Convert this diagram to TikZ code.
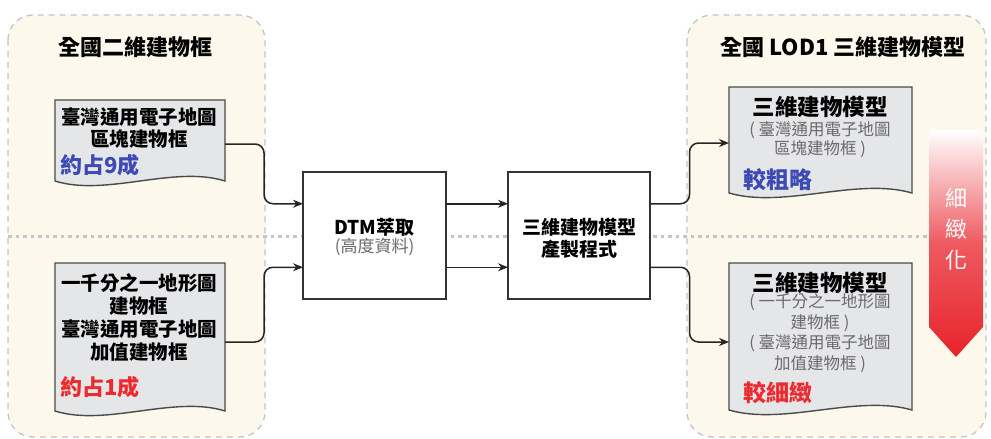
\documentclass[tikz,border=0pt]{standalone}
\usepackage{fontspec}
\setmainfont{Noto Sans CJK TC}
\usetikzlibrary{calc,arrows.meta}
\definecolor{panelfill}{HTML}{FCF8EC}
\definecolor{paneldash}{HTML}{C4C4C4}
\definecolor{docfill}{HTML}{E5E6E8}
\definecolor{docline}{HTML}{4A4A4A}
\definecolor{myblue}{HTML}{3D4AB3}
\definecolor{myred}{HTML}{EE2A2E}
\definecolor{mygray}{HTML}{6A6A6A}
\definecolor{arrowred}{HTML}{E8232B}
\newcommand\fs[2]{\fontsize{#1pt}{#2pt}\selectfont}
\newcommand\docoutline[1]{\path[docshape] (#1.north west) -- (#1.north east) -- (#1.south east)
  .. controls ($(#1.south east)!0.3!(#1.south west)+(0,-16)$) and ($(#1.south east)!0.7!(#1.south west)+(0,16)$) .. (#1.south west) -- cycle;}
\tikzset{
  panel/.style={draw=paneldash, fill=panelfill, dash pattern=on 6pt off 5pt, line width=1.3pt, rounded corners=25pt},
  sepline/.style={draw=gray!45, line width=3pt, dash pattern=on 3.5pt off 4pt},
  docarea/.style={inner sep=0pt, outer sep=0pt, draw=none},
  docshape/.style={draw=docline, fill=docfill, line width=1.4pt},
  procbox/.style={draw=black!80, fill=white, line width=1.5pt, inner sep=0pt, outer sep=0pt},
  conn/.style={draw=black!85, line width=1.5pt, rounded corners=9pt, -{Stealth[length=10pt,width=8pt]}},
  txt/.style={inner sep=0pt, outer sep=0pt, align=center},
}
\begin{document}
\begin{tikzpicture}[x=1pt,y=-1pt]
\useasboundingbox (0,0) rectangle (991,439);
% panels
\draw[panel] (8,15) rectangle (265,437);
\draw[panel] (687,15) rectangle (986,437);
\draw[sepline] (8,236) -- (990,236);
\node[txt, font=\fs{22}{26}\bfseries] (t1) at (135,47) {全國二維建物框};
\node[txt, font=\fs{22}{26}\bfseries] (t2) at (843,47) {全國 LOD1 三維建物模型};
% doc 1
\node[docarea, minimum width=170pt, minimum height=81pt] (d1) at (140,140.5) {};
\docoutline{d1}
\node[txt, font=\fs{19.5}{22}\bfseries] (d1t) at (139,128) {臺灣通用電子地圖\\區塊建物框};
\node[txt, anchor=west, font=\fs{22}{26}\bfseries, text=myblue] (d1p) at (60,165) {約占9成};
% doc 2
\node[docarea, minimum width=170pt, minimum height=148pt] (d2) at (140,337) {};
\docoutline{d2}
\node[txt, font=\fs{19.5}{23}\bfseries] (d2t) at (139,317.5) {一千分之一地形圖\\建物框\\臺灣通用電子地圖\\加值建物框};
\node[txt, anchor=west, font=\fs{22}{26}\bfseries, text=myred] (d2p) at (60,387) {約占1成};
% process boxes
\node[procbox, minimum width=143pt, minimum height=127pt] (dtm) at (374.5,235.5) {};
\node[txt, font=\fs{19}{22}\bfseries] (dtmt) at (374.5,227) {DTM萃取};
\node[txt, font=\fs{17}{20}, text=mygray] (dtms) at (374.5,247) {(高度資料)};
\node[procbox, minimum width=142pt, minimum height=127pt] (prog) at (579,235.5) {};
\node[txt, font=\fs{19}{22}\bfseries] (progt) at (579,238) {三維建物模型\\產製程式};
% doc 3
\node[docarea, minimum width=183pt, minimum height=106pt] (d3) at (820.5,140) {};
\docoutline{d3}
\node[txt, font=\fs{22.5}{26}\bfseries] (d3h) at (820,107) {三維建物模型};
\node[txt, font=\fs{16.5}{19.5}, text=mygray] (d3g) at (820,139.5) {( 臺灣通用電子地圖\\區塊建物框 )};
\node[txt, anchor=west, font=\fs{23}{26}\bfseries, text=myblue] (d3p) at (743,180) {較粗略};
% doc 4
\node[docarea, minimum width=183pt, minimum height=147pt] (d4) at (820.5,336.5) {};
\docoutline{d4}
\node[txt, font=\fs{22.5}{26}\bfseries] (d4h) at (820,283) {三維建物模型};
\node[txt, font=\fs{16.5}{20.5}, text=mygray] (d4g) at (820,333) {( 一千分之一地形圖\\建物框 )\\( 臺灣通用電子地圖\\加值建物框 )};
\node[txt, anchor=west, font=\fs{23}{26}\bfseries, text=myred] (d4p) at (743,393) {較細緻};
% connector points
\coordinate (dtmA) at ($(dtm.north west)!0.25!(dtm.south west)$);
\coordinate (dtmB) at ($(dtm.north west)!0.75!(dtm.south west)$);
\coordinate (dtmC) at ($(dtm.north east)!0.25!(dtm.south east)$);
\coordinate (dtmD) at ($(dtm.north east)!0.75!(dtm.south east)$);
\coordinate (progA) at ($(prog.north west)!0.25!(prog.south west)$);
\coordinate (progB) at ($(prog.north west)!0.75!(prog.south west)$);
\coordinate (progC) at ($(prog.north east)!0.25!(prog.south east)$);
\coordinate (progD) at ($(prog.north east)!0.75!(prog.south east)$);
\coordinate (d1o) at ([yshift=-3.5pt]d1.east);
\coordinate (d2o) at ([yshift=-5pt]d2.east);
\coordinate (d3i) at ([yshift=-3pt]d3.west);
\coordinate (d4i) at ([yshift=-5.5pt]d4.west);
% connectors
\draw[conn] (d1o) -| ($(d1o)!0.5!(dtmA)$) |- (dtmA);
\draw[conn] (d2o) -| ($(d2o)!0.5!(dtmB)$) |- (dtmB);
\draw[conn] (dtmC) -- (progA);
\draw[conn] (dtmD) -- (progB);
\draw[conn] (progC) -| ($(progC)!0.5!(d3i)$) |- (d3i);
\draw[conn] (progD) -| ($(progD)!0.5!(d4i)$) |- (d4i);
% refinement arrow
\path[top color=white, bottom color=arrowred, middle color=arrowred!75!white]
  (929,130) -- (983,130) -- (983,327) -- (956,357) -- (929,327) -- cycle;
\node[txt, font=\fs{22}{31}, text=white] (fine) at (956,229) {細\\緻\\化};
\end{tikzpicture}
\end{document}
